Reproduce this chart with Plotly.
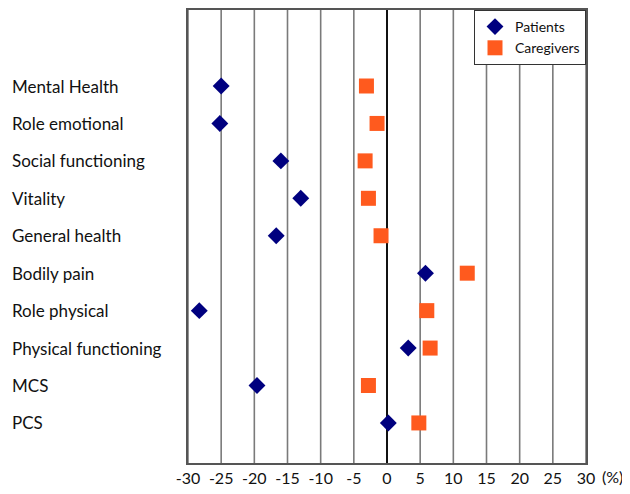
import plotly.graph_objects as go

categories = ["Mental Health", "Role emotional", "Social functioning", "Vitality",
              "General health", "Bodily pain", "Role physical",
              "Physical functioning", "MCS", "PCS"]
patients = [-25.0, -25.2, -16.0, -13.0, -16.7, 5.8, -28.3, 3.2, -19.6, 0.2]
caregivers = [-3.1, -1.5, -3.3, -2.8, -0.9, 12.1, 6.0, 6.5, -2.8, 4.8]
x_ticks = [-30, -25, -20, -15, -10, -5, 0, 5, 10, 15, 20, 25, 30]
x_tick_text = [str(t) for t in x_ticks]

ypos = list(range(len(categories), 0, -1))

font_family = "Lato, Open Sans, sans-serif"

fig = go.Figure()
fig.add_trace(go.Scatter(
    x=patients, y=ypos, mode="markers", name="Patients",
    marker=dict(symbol="diamond", size=13, color="#00007F"),
))
fig.add_trace(go.Scatter(
    x=caregivers, y=ypos, mode="markers", name="Caregivers",
    marker=dict(symbol="square", size=15, color="#FF5A1E"),
))

for t in x_ticks:
    fig.add_shape(type="line", xref="x", yref="paper", x0=t, x1=t, y0=0, y1=1,
                  line=dict(color="#111111" if t == 0 else "#7a7a7a",
                            width=2 if t == 0 else 1.6),
                  layer="below")

for c, y in zip(categories, ypos):
    fig.add_annotation(text=c, x=-0.447, xref="paper", y=y, yref="y",
                       xanchor="left", yanchor="middle", showarrow=False,
                       font=dict(family=font_family, size=17, color="#111111"))

fig.add_annotation(text="(%)", x=1.035, xref="paper", y=-0.029, yref="paper",
                   xanchor="left", yanchor="middle", showarrow=False,
                   font=dict(family=font_family, size=16, color="#111111"))

fig.update_layout(
    width=622, height=486,
    margin=dict(l=180, r=44, t=2, b=31),
    paper_bgcolor="white", plot_bgcolor="white",
    showlegend=True,
    legend=dict(x=1, y=1, xanchor="right", yanchor="top",
                bordercolor="#333333", borderwidth=1, bgcolor="white",
                font=dict(family=font_family, size=14, color="#111111"),
                itemwidth=30, tracegroupgap=0),
    xaxis=dict(range=[-30, 30], tickvals=x_ticks, ticktext=x_tick_text,
               showgrid=False, zeroline=False, showline=True, linecolor="#555555",
               linewidth=1.5, mirror=True, ticks="", automargin=False,
               tickfont=dict(family=font_family, size=16, color="#111111")),
    yaxis=dict(range=[-0.07, 12.03], showticklabels=False, showgrid=False,
               zeroline=False, showline=True, linecolor="#555555", linewidth=1.5,
               mirror=True, ticks="", automargin=False),
)

fig.write_html("out.html")
